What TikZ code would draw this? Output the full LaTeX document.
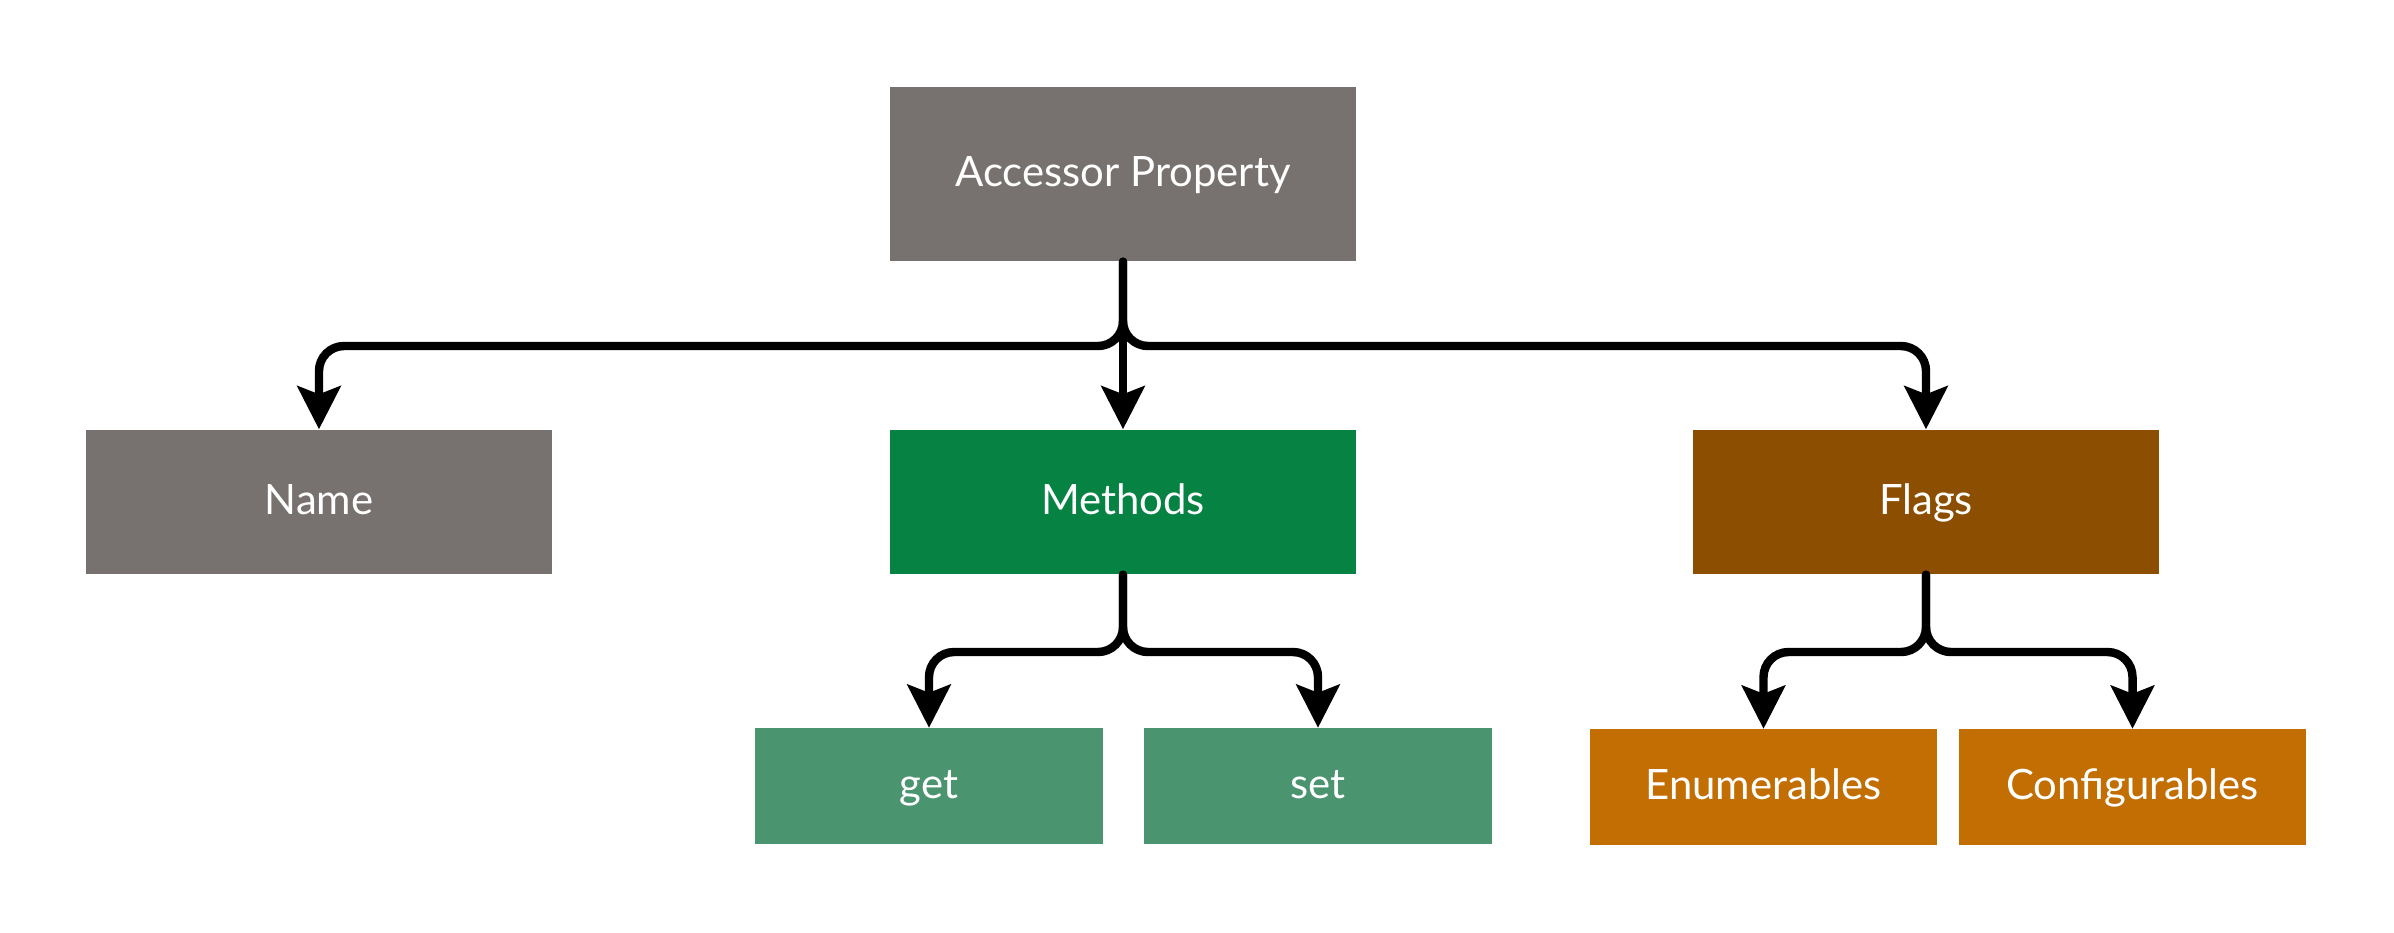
\documentclass[tikz,border=0pt]{standalone}
\usepackage{fontspec}
\setmainfont{Lato}
\usetikzlibrary{arrows.meta}

\definecolor{greybox}{HTML}{777170}
\definecolor{greenbox}{HTML}{068343}
\definecolor{lightgreenbox}{HTML}{4A9470}
\definecolor{brownbox}{HTML}{8C4F02}
\definecolor{orangebox}{HTML}{C26E03}

\begin{document}
\begin{tikzpicture}[x = 0.01cm, y = -0.01cm,
    box/.style = {rectangle, inner sep=0pt, text=white, text height=0.8em, text depth=0.1em,
        font=\fontsize{11.9}{14}\selectfont},
    bigbox/.style = {box, minimum width=4.65cm, minimum height=1.44cm},
    smallbox/.style = {box, minimum width=3.47cm, minimum height=1.15cm},
    link/.style = {line width=2.4pt, line cap=round, rounded corners=0.25cm,
        -{Stealth[length=0.43cm, width=0.43cm, inset=0.08cm]}}]
    \useasboundingbox (0,0) rectangle (2394,932);
    \node[box, fill=greybox, minimum width=4.65cm, minimum height=1.74cm] (accessor) at (1123,174) {Accessor Property};
    \node[bigbox, fill=greybox] (name) at (319,502) {Name};
    \node[bigbox, fill=greenbox] (methods) at (1123,502) {Methods};
    \node[bigbox, fill=brownbox] (flags) at (1926,502) {Flags};
    \node[smallbox, fill=lightgreenbox] (get) at (929,786) {get};
    \node[smallbox, fill=lightgreenbox] (set) at (1318,786) {set};
    \node[smallbox, fill=orangebox] (enum) at (1763.5,787) {Enumerables};
    \node[smallbox, fill=orangebox] (config) at (2132.5,787) {Configurables};
    \coordinate (accessorjoin) at (1123,346);
    \coordinate (methodsjoin) at (1123,652);
    \coordinate (flagsjoin) at (1926,652);
    \draw[link] (accessor.south) -- (accessorjoin) -| (name.north);
    \draw[link] (accessor.south) -- (accessorjoin) -| (flags.north);
    \draw[link] (accessor.south) -- (methods.north);
    \draw[link] (methods.south) -- (methodsjoin) -| (get.north);
    \draw[link] (methods.south) -- (methodsjoin) -| (set.north);
    \draw[link] (flags.south) -- (flagsjoin) -| (enum.north);
    \draw[link] (flags.south) -- (flagsjoin) -| (config.north);
\end{tikzpicture}
\end{document}
